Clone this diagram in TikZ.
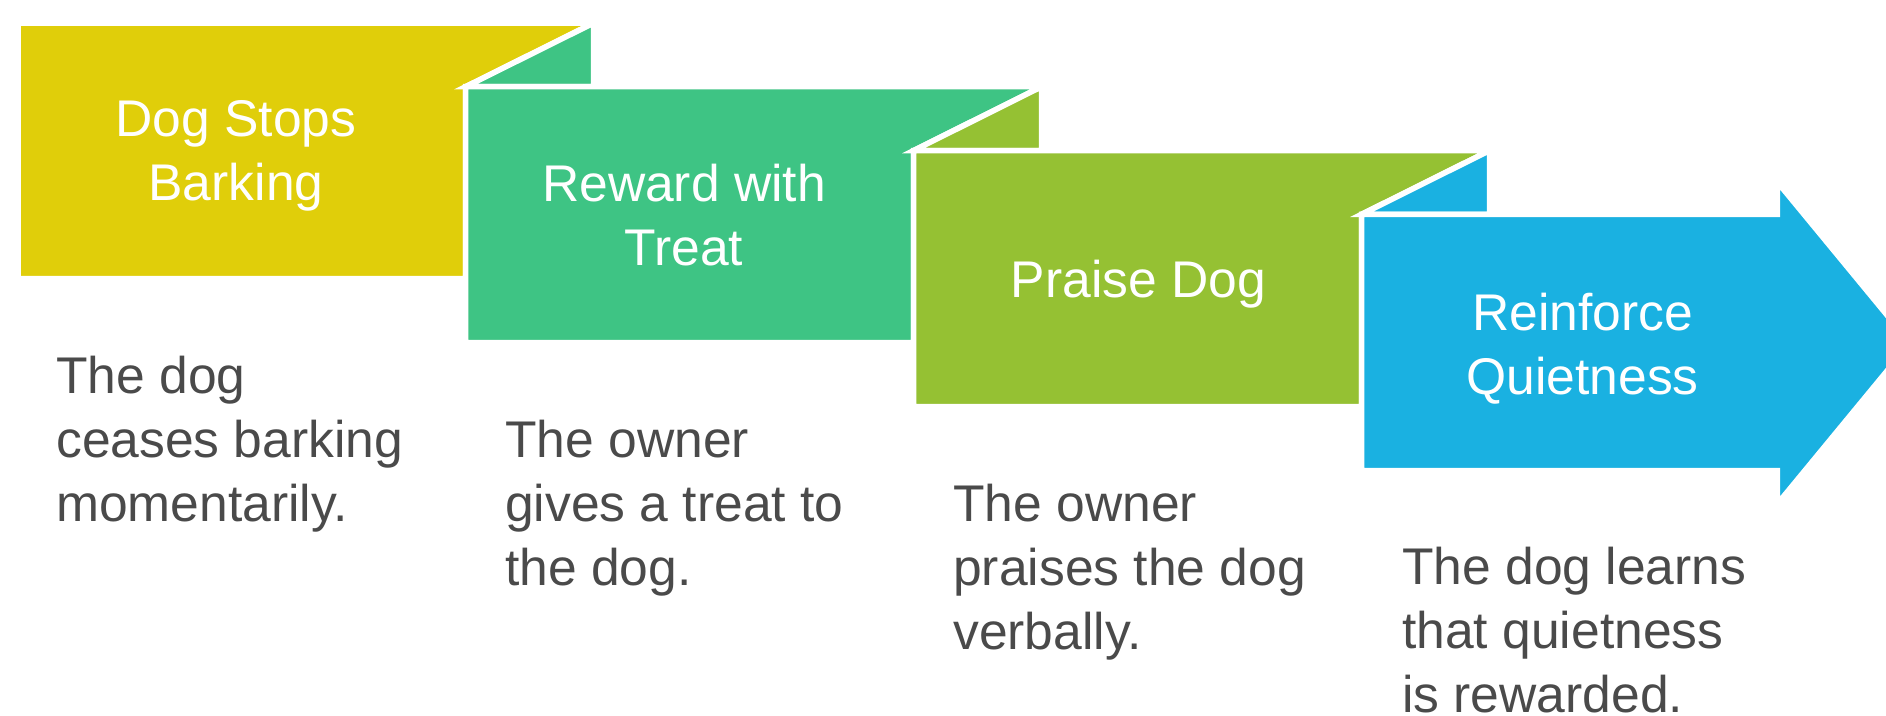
\documentclass[tikz,border=0pt]{standalone}
\usepackage{fontspec}
\setmainfont{Liberation Sans}
\definecolor{cyellow}{HTML}{E0CE0A}
\definecolor{cgreen}{HTML}{3EC484}
\definecolor{clime}{HTML}{95C133}
\definecolor{cblue}{HTML}{1AB1E1}
\definecolor{ctext}{HTML}{4A4A4A}
\newcommand{\mystrut}{\rule{0pt}{40pt}}
\begin{document}
\begin{tikzpicture}[x=1pt,y=-1pt,
  panel/.style={draw=white, line width=5.5pt, line join=miter},
  title/.style={text=white, font=\fontsize{51.6}{64}\selectfont, align=center, inner sep=0pt, anchor=north},
  desc/.style={text=ctext, font=\fontsize{51.6}{64}\selectfont, align=left, inner sep=0pt, anchor=north west}]
\useasboundingbox (0,0) rectangle (1886,715);
\clip (0,0) rectangle (1886,715);
% step 1
\path[panel, fill=cyellow] (18,23) -- (593.7,23) -- (465.7,86.7) -- (465.7,278.7) -- (18,278.7) -- cycle;
% step 2
\path[panel, fill=cgreen] (465.7,86.7) -- (593.7,23) -- (593.7,86.7) -- cycle;
\path[panel, fill=cgreen] (465.7,86.7) -- (1041.7,86.7) -- (913.7,150.5) -- (913.7,342.7) -- (465.7,342.7) -- cycle;
% step 3
\path[panel, fill=clime] (913.7,150.5) -- (1041.7,86.7) -- (1041.7,150.5) -- cycle;
\path[panel, fill=clime] (913.7,150.5) -- (1489.7,150.5) -- (1361.7,214.3) -- (1361.7,406.7) -- (913.7,406.7) -- cycle;
% step 4
\path[panel, fill=cblue] (1361.7,214.3) -- (1489.7,150.5) -- (1489.7,214.3) -- cycle;
\path[panel, fill=cblue] (1361.7,214.3) -- (1777.3,214.3) -- (1777.3,182) -- (1910,343) -- (1777.3,504) -- (1777.3,470.5) -- (1361.7,470.5) -- cycle;
% titles
\node[title] (t1) at (236,96.7) {\mystrut Dog Stops\\Barking};
\node[title] (t2) at (684,161.7) {\mystrut Reward with\\Treat};
\node[title] (t3) at (1138.5,257.7) {\mystrut Praise Dog};
\node[title] (t4) at (1582.5,290) {\mystrut Reinforce\\Quietness};
% descriptions
\node[desc] (d1) at (56,353.3) {\mystrut The dog\\ceases barking\\momentarily.};
\node[desc] (d2) at (505,417.3) {\mystrut The owner\\gives a treat to\\the dog.};
\node[desc] (d3) at (953,481) {\mystrut The owner\\praises the dog\\verbally.};
\node[desc] (d4) at (1402,544) {\mystrut The dog learns\\that quietness\\is rewarded.};
\end{tikzpicture}
\end{document}
